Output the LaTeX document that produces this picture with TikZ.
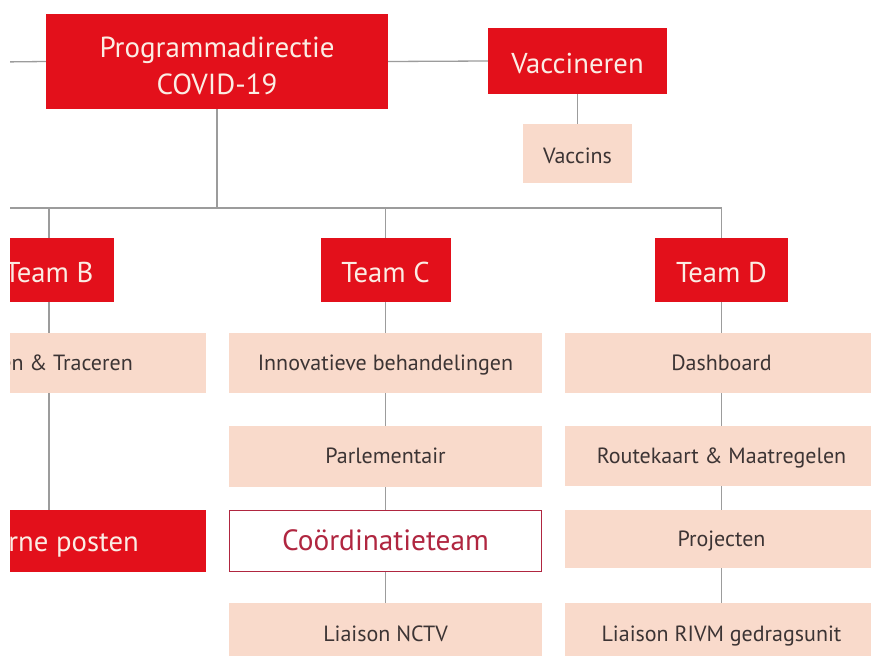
\documentclass[tikz,border=0pt]{standalone}
\usepackage{fontspec}
\setmainfont{PT Sans}
\definecolor{rred}{HTML}{E3101B}
\definecolor{peach}{HTML}{F9DACB}
\definecolor{cream}{HTML}{FBEDE4}
\definecolor{darkt}{HTML}{3C3434}
\definecolor{crim}{HTML}{B02640}
\definecolor{lgray}{HTML}{9C9C9C}
\tikzset{
  redbox/.style={fill=rred, draw=none, text=cream, inner sep=0pt, text height=25pt, text depth=0pt, font=\fontsize{28.7}{32}\selectfont},
  peachbox/.style={fill=peach, draw=none, text=darkt, inner sep=0pt, minimum width=313pt, text height=14pt, text depth=0pt, font=\fontsize{22}{25}\selectfont},
  cutlabel/.style={inner sep=0pt, anchor=east, text depth=0pt},
  conn/.style={draw=lgray, line width=1.3pt},
}
\begin{document}
\begin{tikzpicture}[x=1pt,y=-1pt]
\useasboundingbox[fill=white] (0,0) rectangle (871,656);
\begin{scope}
\clip (10,0) rectangle (871,656);
% top
\node[fill=rred, text=cream, inner sep=0pt, minimum width=342pt, minimum height=95pt, align=center, text height=65pt, text depth=0pt, font=\fontsize{29}{37}\selectfont] (main) at (217,61.5) {Programmadirectie\\COVID-19};
\node[redbox, minimum width=179pt, minimum height=66pt, text height=24pt] (vacc) at (577.5,61) {Vaccineren};
\node[peachbox, minimum width=109pt, minimum height=59pt, text height=19pt] (vaccins) at (577.5,153.5) {Vaccins};
% teams
\node[redbox, minimum width=130pt, minimum height=64pt] (teamB) at (49,270) {Team B};
\node[redbox, minimum width=130pt, minimum height=64pt] (teamC) at (385.5,270) {Team C};
\node[redbox, minimum width=133pt, minimum height=64pt] (teamD) at (721.5,270) {Team D};
% column B
\node[peachbox, minimum height=60pt] (cB1) at (49,363) {};
\node[cutlabel, text=darkt, text height=14pt, font=\fontsize{22}{25}\selectfont] (cB1t) at (133,363) {en \& Traceren};
\node[redbox, minimum width=313pt, minimum height=62pt] (cB3) at (49,541) {};
\node[cutlabel, text=cream, text height=20pt, font=\fontsize{28.7}{32}\selectfont] (cB3t) at (139,541) {rne posten};
% column C
\node[peachbox, minimum height=60pt] (cC1) at (385.5,363) {Innovatieve behandelingen};
\node[peachbox, minimum height=61pt] (cC2) at (385.5,456.5) {Parlementair};
\node[fill=white, draw=crim, line width=1.3pt, text=crim, inner sep=0pt, minimum width=312pt, minimum height=61pt, text height=18pt, text depth=0pt, font=\fontsize{29.3}{33}\selectfont] (cC3) at (385.5,541) {Coördinatieteam};
\node[peachbox, minimum height=62pt] (cC4) at (385.5,634) {Liaison NCTV};
% column D
\node[peachbox, minimum height=60pt] (cD1) at (721.5,363) {Dashboard};
\node[peachbox, minimum height=60pt] (cD2) at (721.5,456) {Routekaart \& Maatregelen};
\node[peachbox, minimum height=58pt] (cD3) at (721.5,539) {Projecten};
\node[peachbox, minimum height=62pt] (cD4) at (721.5,634) {Liaison RIVM gedragsunit};
% connectors
\coordinate (leftend) at (0,62);
\coordinate (bus) at (0,208);
\coordinate (busD) at (teamD.north |- bus);
\draw[conn] (leftend) -- (main.west);
\draw[conn] (main.east) -- (vacc.west);
\draw[conn] (vacc.south) -- (vaccins.north);
\draw[conn] (main.south) -- (main.south |- bus);
\draw[conn] (bus) -- (busD) -- (teamD.north);
\draw[conn] (teamB.north |- bus) -- (teamB.north);
\draw[conn] (teamC.north |- bus) -- (teamC.north);
\draw[conn] (teamB.south) -- (cB1.north);
\draw[conn] (cB1.south) -- (cB3.north);
\draw[conn] (teamC.south) -- (cC1.north);
\draw[conn] (cC1.south) -- (cC2.north);
\draw[conn] (cC2.south) -- (cC3.north);
\draw[conn] (cC3.south) -- (cC4.north);
\draw[conn] (teamD.south) -- (cD1.north);
\draw[conn] (cD1.south) -- (cD2.north);
\draw[conn] (cD2.south) -- (cD3.north);
\draw[conn] (cD3.south) -- (cD4.north);
\end{scope}
\end{tikzpicture}
\end{document}
